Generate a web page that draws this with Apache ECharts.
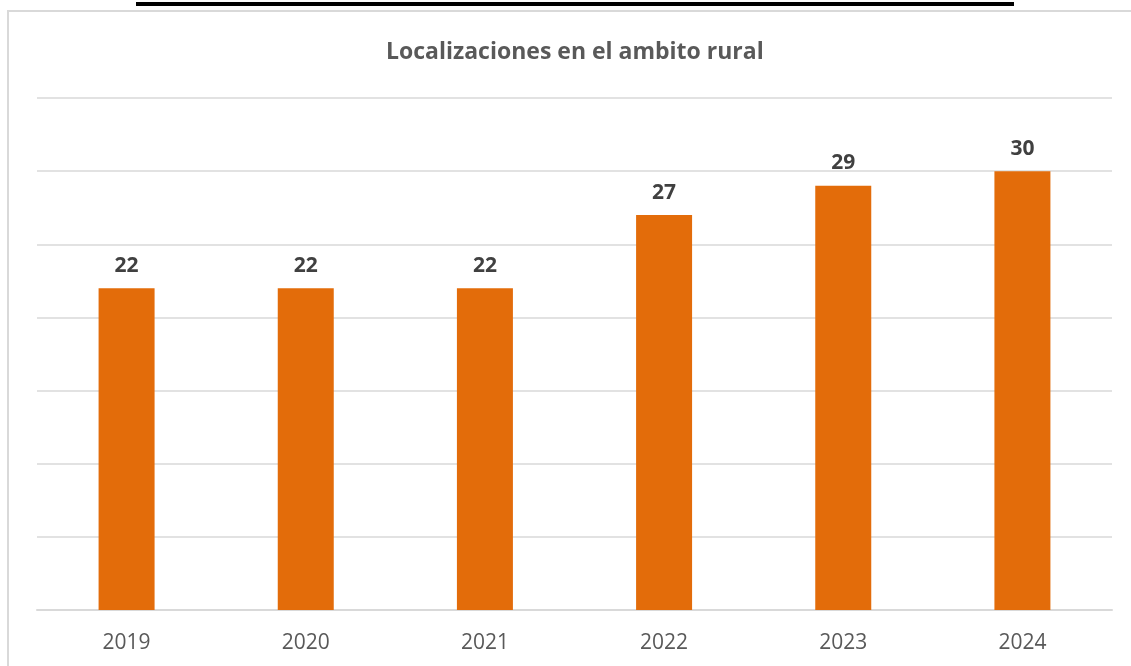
<!DOCTYPE html>
<html>
<head>
<meta charset="utf-8">
<script src="https://cdn.jsdelivr.net/npm/echarts@6/dist/echarts.min.js"></script>
<style>
  html, body { margin: 0; padding: 0; background: #ffffff; }
  #chart { width: 1131px; height: 666px; }
</style>
</head>
<body>
<div id="chart"></div>
<script>
// Rural-area localizations per year
const years = ['2019', '2020', '2021', '2022', '2023', '2024'];
const localizaciones = [22, 22, 22, 27, 29, 30];
const chartTitle = 'Localizaciones en el ambito rural';

const chart = echarts.init(document.getElementById('chart'), null, { renderer: 'canvas' });

chart.setOption({
  backgroundColor: '#ffffff',
  animation: false,
  title: {
    text: chartTitle,
    left: 381,
    top: 36,
    textStyle: {
      fontFamily: 'Open Sans',
      fontWeight: 'bold',
      fontSize: 23,
      color: '#595959'
    }
  },
  graphic: [
    // heading rule above the chart frame
    { type: 'rect', shape: { x: 136, y: 2, width: 878, height: 4 }, style: { fill: '#000000' }, silent: true },
    // chart frame (left and top edges)
    { type: 'polyline', shape: { points: [[8, 666], [8, 11], [1131, 11]] }, style: { stroke: '#d9d9d9', lineWidth: 2, fill: null }, silent: true }
  ],
  grid: { left: 37, right: 19, top: 98, bottom: 56, containLabel: false },
  xAxis: {
    type: 'category',
    data: years,
    axisTick: { show: false },
    axisLine: { show: true, lineStyle: { color: '#d9d9d9', width: 2 } },
    axisLabel: {
      margin: 23,
      fontFamily: 'Open Sans',
      fontSize: 21,
      color: '#595959'
    }
  },
  yAxis: {
    type: 'value',
    min: 0,
    max: 35,
    interval: 5,
    axisLabel: { show: false },
    axisLine: { show: false },
    axisTick: { show: false },
    splitLine: { lineStyle: { color: '#d9d9d9', width: 1.5 } }
  },
  series: [{
    type: 'bar',
    data: localizaciones,
    barWidth: 56,
    itemStyle: { color: '#e36c0a' },
    label: {
      show: true,
      position: 'top',
      distance: 12,
      fontFamily: 'Open Sans',
      fontWeight: 'bold',
      fontSize: 21,
      color: '#404040'
    }
  }]
});
</script>
</body>
</html>
